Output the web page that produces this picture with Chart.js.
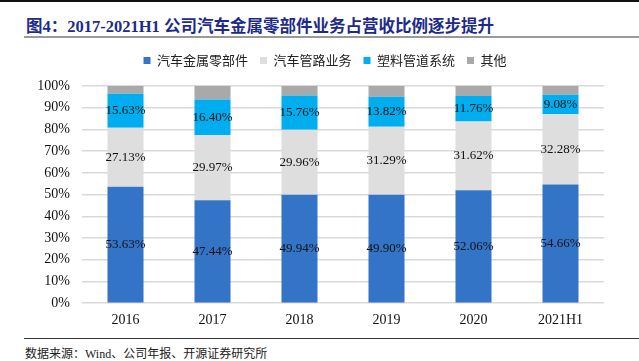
<!DOCTYPE html>
<html lang="zh">
<head>
<meta charset="UTF-8">
<title>图4</title>
<script src="https://cdn.jsdelivr.net/npm/chart.js@4.4.0/dist/chart.umd.min.js"></script>
<style>
    html, body { margin: 0; padding: 0; background: #fff; }
    body { width: 639px; height: 361px; position: relative; overflow: hidden; }
    .topline { position: absolute; left: 0; top: 0; width: 639px; height: 2px; background: #111; }
    .title {
        position: absolute; left: 26px; top: 13px;
        font: bold 16.5px "Liberation Serif", "Noto Sans CJK SC", serif;
        color: #1c2a8c; white-space: nowrap;
    }
    .titleline { position: absolute; left: 24px; top: 36px; width: 615px; height: 2px; background: #9a9a9a; }
    .footline { position: absolute; left: 24px; top: 338px; width: 615px; height: 1px; background: #333; }
    .source {
        position: absolute; left: 25px; top: 344px;
        font: 12px "Liberation Serif", "Noto Sans CJK SC", serif;
        color: #222; white-space: nowrap;
    }
    #wrap { position: absolute; left: 0; top: 42px; width: 639px; height: 288px; }
</style>
</head>
<body>
<div class="topline"></div>
<div class="title">图4：2017-2021H1 公司汽车金属零部件业务占营收比例逐步提升</div>
<div class="titleline"></div>
<div id="wrap"><canvas id="myChart"></canvas></div>
<div class="footline"></div>
<div class="source">数据来源：Wind、公司年报、开源证券研究所</div>

<script>
    // data (percent of revenue)
    var years = ['2016', '2017', '2018', '2019', '2020', '2021H1'];
    var metalParts = [53.63, 47.44, 49.94, 49.90, 52.06, 54.66];
    var pipeBusiness = [27.13, 29.97, 29.96, 31.29, 31.62, 32.28];
    var plasticPipe = [15.63, 16.40, 15.76, 13.82, 11.76, 9.08];
    var others = [3.61, 6.19, 4.34, 4.99, 4.56, 3.98];

    // simple in-bar value labels (no datalabels plugin available)
    var barLabels = {
        id: 'barLabels',
        afterDatasetsDraw: function (chart) {
            var ctx = chart.ctx;
            ctx.save();
            ctx.font = '13px "Liberation Serif", serif';
            ctx.fillStyle = '#111';
            ctx.textAlign = 'center';
            ctx.textBaseline = 'middle';
            for (var d = 0; d < 3; d++) {
                var meta = chart.getDatasetMeta(d);
                meta.data.forEach(function (bar, i) {
                    var v = chart.data.datasets[d].data[i];
                    ctx.fillText(v.toFixed(2) + '%', bar.x, (bar.y + bar.base) / 2);
                });
            }
            ctx.restore();
        }
    };

    // extra room under the legend, and nudge it right like the original
    var legendSpace = {
        id: 'legendSpace',
        beforeInit: function (chart) {
            var fit = chart.legend.fit;
            chart.legend.fit = function () {
                fit.bind(chart.legend)();
                this.height += 9;
            };
        },
        afterLayout: function (chart) {
            chart.legend.left += 23;
            chart.legend.right += 23;
        }
    };

    var ctx = document.getElementById('myChart').getContext('2d');
    var chart = new Chart(ctx, {
        type: 'bar',
        data: {
            labels: years,
            datasets: [
                { label: '汽车金属零部件', data: metalParts, backgroundColor: '#3474c6' },
                { label: '汽车管路业务', data: pipeBusiness, backgroundColor: '#dedede' },
                { label: '塑料管道系统', data: plasticPipe, backgroundColor: '#00adee' },
                { label: '其他', data: others, backgroundColor: '#a9a9a9' }
            ]
        },
        options: {
            responsive: true,
            maintainAspectRatio: false,
            animation: false,
            layout: { padding: { left: 0, right: 35, top: 0, bottom: 0 } },
            datasets: { bar: { barPercentage: 0.414, categoryPercentage: 1, borderWidth: 0 } },
            plugins: {
                legend: {
                    position: 'top',
                    labels: {
                        boxWidth: 7, boxHeight: 7, padding: 12,
                        color: '#222',
                        font: { size: 13, family: '"Noto Sans CJK SC", sans-serif' }
                    }
                },
                tooltip: { enabled: false }
            },
            scales: {
                x: {
                    stacked: true,
                    grid: { display: false },
                    border: { display: false },
                    ticks: { color: '#111', padding: 1, font: { size: 14, family: '"Liberation Serif", serif' } }
                },
                y: {
                    stacked: true,
                    min: 0, max: 100,
                    afterFit: function (scale) { scale.width = 82; },
                    grid: { color: '#d9d9d9', lineWidth: 1.5, drawTicks: false },
                    border: { display: false },
                    ticks: {
                        stepSize: 10, padding: 12, color: '#111',
                        font: { size: 14, family: '"Liberation Serif", serif' },
                        callback: function (v) { return v + '%'; }
                    }
                }
            }
        },
        plugins: [barLabels, legendSpace]
    });
</script>
</body>
</html>
